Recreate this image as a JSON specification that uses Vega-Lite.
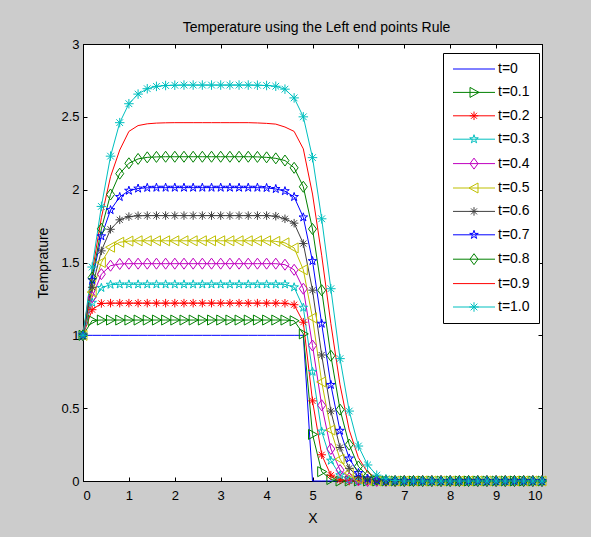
{
"$schema": "https://vega.github.io/schema/vega-lite/v6.json",
"width": 459, "height": 437,
"autosize": {"type": "none"},
"padding": {"left": 83, "top": 44, "right": 49, "bottom": 56},
"background": "#cccccc",
"config": {
  "font": "Liberation Sans",
  "view": {"fill": "white", "stroke": "black", "strokeWidth": 1},
  "axis": {"domainColor": "black", "tickColor": "black", "labelColor": "black", "titleColor": "black", "labelFontSize": 13, "titleFontSize": 14, "titleFontWeight": "normal", "tickSize": -4, "grid": false, "domainWidth": 1, "tickWidth": 1}
},
"title": {"text": "Temperature using the Left end points Rule", "fontSize": 14, "fontWeight": "normal", "color": "black", "anchor": "middle", "frame": "group", "baseline": "alphabetic", "offset": 12, "dx": 4, "dy": 20},
"data": {"values": [
{"x":0,"y":1,"s":"t=0"},{"x":0.2,"y":1,"s":"t=0"},{"x":0.4,"y":1,"s":"t=0"},{"x":0.6,"y":1,"s":"t=0"},{"x":0.8,"y":1,"s":"t=0"},{"x":1,"y":1,"s":"t=0"},{"x":1.2,"y":1,"s":"t=0"},{"x":1.4,"y":1,"s":"t=0"},{"x":1.6,"y":1,"s":"t=0"},{"x":1.8,"y":1,"s":"t=0"},{"x":2,"y":1,"s":"t=0"},{"x":2.2,"y":1,"s":"t=0"},{"x":2.4,"y":1,"s":"t=0"},{"x":2.6,"y":1,"s":"t=0"},{"x":2.8,"y":1,"s":"t=0"},{"x":3,"y":1,"s":"t=0"},{"x":3.2,"y":1,"s":"t=0"},{"x":3.4,"y":1,"s":"t=0"},{"x":3.6,"y":1,"s":"t=0"},{"x":3.8,"y":1,"s":"t=0"},{"x":4,"y":1,"s":"t=0"},{"x":4.2,"y":1,"s":"t=0"},{"x":4.4,"y":1,"s":"t=0"},{"x":4.6,"y":1,"s":"t=0"},{"x":4.8,"y":1,"s":"t=0"},{"x":5,"y":0,"s":"t=0"},{"x":5.2,"y":0,"s":"t=0"},{"x":5.4,"y":0,"s":"t=0"},{"x":5.6,"y":0,"s":"t=0"},{"x":5.8,"y":0,"s":"t=0"},{"x":6,"y":0,"s":"t=0"},{"x":6.2,"y":0,"s":"t=0"},{"x":6.4,"y":0,"s":"t=0"},{"x":6.6,"y":0,"s":"t=0"},{"x":6.8,"y":0,"s":"t=0"},{"x":7,"y":0,"s":"t=0"},{"x":7.2,"y":0,"s":"t=0"},{"x":7.4,"y":0,"s":"t=0"},{"x":7.6,"y":0,"s":"t=0"},{"x":7.8,"y":0,"s":"t=0"},{"x":8,"y":0,"s":"t=0"},{"x":8.2,"y":0,"s":"t=0"},{"x":8.4,"y":0,"s":"t=0"},{"x":8.6,"y":0,"s":"t=0"},{"x":8.8,"y":0,"s":"t=0"},{"x":9,"y":0,"s":"t=0"},{"x":9.2,"y":0,"s":"t=0"},{"x":9.4,"y":0,"s":"t=0"},{"x":9.6,"y":0,"s":"t=0"},{"x":9.8,"y":0,"s":"t=0"},{"x":10,"y":0,"s":"t=0"},
{"x":0,"y":1,"s":"t=0.1"},{"x":0.2,"y":1.102,"s":"t=0.1"},{"x":0.4,"y":1.105,"s":"t=0.1"},{"x":0.6,"y":1.105,"s":"t=0.1"},{"x":0.8,"y":1.105,"s":"t=0.1"},{"x":1,"y":1.105,"s":"t=0.1"},{"x":1.2,"y":1.105,"s":"t=0.1"},{"x":1.4,"y":1.105,"s":"t=0.1"},{"x":1.6,"y":1.105,"s":"t=0.1"},{"x":1.8,"y":1.105,"s":"t=0.1"},{"x":2,"y":1.105,"s":"t=0.1"},{"x":2.2,"y":1.105,"s":"t=0.1"},{"x":2.4,"y":1.105,"s":"t=0.1"},{"x":2.6,"y":1.105,"s":"t=0.1"},{"x":2.8,"y":1.105,"s":"t=0.1"},{"x":3,"y":1.105,"s":"t=0.1"},{"x":3.2,"y":1.105,"s":"t=0.1"},{"x":3.4,"y":1.105,"s":"t=0.1"},{"x":3.6,"y":1.105,"s":"t=0.1"},{"x":3.8,"y":1.105,"s":"t=0.1"},{"x":4,"y":1.105,"s":"t=0.1"},{"x":4.2,"y":1.105,"s":"t=0.1"},{"x":4.4,"y":1.105,"s":"t=0.1"},{"x":4.6,"y":1.1,"s":"t=0.1"},{"x":4.8,"y":1.01,"s":"t=0.1"},{"x":5,"y":0.32,"s":"t=0.1"},{"x":5.2,"y":0.064,"s":"t=0.1"},{"x":5.4,"y":0.01,"s":"t=0.1"},{"x":5.6,"y":0,"s":"t=0.1"},{"x":5.8,"y":0,"s":"t=0.1"},{"x":6,"y":0,"s":"t=0.1"},{"x":6.2,"y":0,"s":"t=0.1"},{"x":6.4,"y":0,"s":"t=0.1"},{"x":6.6,"y":0,"s":"t=0.1"},{"x":6.8,"y":0,"s":"t=0.1"},{"x":7,"y":0,"s":"t=0.1"},{"x":7.2,"y":0,"s":"t=0.1"},{"x":7.4,"y":0,"s":"t=0.1"},{"x":7.6,"y":0,"s":"t=0.1"},{"x":7.8,"y":0,"s":"t=0.1"},{"x":8,"y":0,"s":"t=0.1"},{"x":8.2,"y":0,"s":"t=0.1"},{"x":8.4,"y":0,"s":"t=0.1"},{"x":8.6,"y":0,"s":"t=0.1"},{"x":8.8,"y":0,"s":"t=0.1"},{"x":9,"y":0,"s":"t=0.1"},{"x":9.2,"y":0,"s":"t=0.1"},{"x":9.4,"y":0,"s":"t=0.1"},{"x":9.6,"y":0,"s":"t=0.1"},{"x":9.8,"y":0,"s":"t=0.1"},{"x":10,"y":0,"s":"t=0.1"},
{"x":0,"y":1,"s":"t=0.2"},{"x":0.2,"y":1.176,"s":"t=0.2"},{"x":0.4,"y":1.219,"s":"t=0.2"},{"x":0.6,"y":1.221,"s":"t=0.2"},{"x":0.8,"y":1.221,"s":"t=0.2"},{"x":1,"y":1.221,"s":"t=0.2"},{"x":1.2,"y":1.221,"s":"t=0.2"},{"x":1.4,"y":1.221,"s":"t=0.2"},{"x":1.6,"y":1.221,"s":"t=0.2"},{"x":1.8,"y":1.221,"s":"t=0.2"},{"x":2,"y":1.221,"s":"t=0.2"},{"x":2.2,"y":1.221,"s":"t=0.2"},{"x":2.4,"y":1.221,"s":"t=0.2"},{"x":2.6,"y":1.221,"s":"t=0.2"},{"x":2.8,"y":1.221,"s":"t=0.2"},{"x":3,"y":1.221,"s":"t=0.2"},{"x":3.2,"y":1.221,"s":"t=0.2"},{"x":3.4,"y":1.221,"s":"t=0.2"},{"x":3.6,"y":1.221,"s":"t=0.2"},{"x":3.8,"y":1.221,"s":"t=0.2"},{"x":4,"y":1.221,"s":"t=0.2"},{"x":4.2,"y":1.221,"s":"t=0.2"},{"x":4.4,"y":1.22,"s":"t=0.2"},{"x":4.6,"y":1.21,"s":"t=0.2"},{"x":4.8,"y":1.09,"s":"t=0.2"},{"x":5,"y":0.55,"s":"t=0.2"},{"x":5.2,"y":0.18,"s":"t=0.2"},{"x":5.4,"y":0.04,"s":"t=0.2"},{"x":5.6,"y":0.008,"s":"t=0.2"},{"x":5.8,"y":0,"s":"t=0.2"},{"x":6,"y":0,"s":"t=0.2"},{"x":6.2,"y":0,"s":"t=0.2"},{"x":6.4,"y":0,"s":"t=0.2"},{"x":6.6,"y":0,"s":"t=0.2"},{"x":6.8,"y":0,"s":"t=0.2"},{"x":7,"y":0,"s":"t=0.2"},{"x":7.2,"y":0,"s":"t=0.2"},{"x":7.4,"y":0,"s":"t=0.2"},{"x":7.6,"y":0,"s":"t=0.2"},{"x":7.8,"y":0,"s":"t=0.2"},{"x":8,"y":0,"s":"t=0.2"},{"x":8.2,"y":0,"s":"t=0.2"},{"x":8.4,"y":0,"s":"t=0.2"},{"x":8.6,"y":0,"s":"t=0.2"},{"x":8.8,"y":0,"s":"t=0.2"},{"x":9,"y":0,"s":"t=0.2"},{"x":9.2,"y":0,"s":"t=0.2"},{"x":9.4,"y":0,"s":"t=0.2"},{"x":9.6,"y":0,"s":"t=0.2"},{"x":9.8,"y":0,"s":"t=0.2"},{"x":10,"y":0,"s":"t=0.2"},
{"x":0,"y":1,"s":"t=0.3"},{"x":0.2,"y":1.224,"s":"t=0.3"},{"x":0.4,"y":1.326,"s":"t=0.3"},{"x":0.6,"y":1.348,"s":"t=0.3"},{"x":0.8,"y":1.35,"s":"t=0.3"},{"x":1,"y":1.35,"s":"t=0.3"},{"x":1.2,"y":1.35,"s":"t=0.3"},{"x":1.4,"y":1.35,"s":"t=0.3"},{"x":1.6,"y":1.35,"s":"t=0.3"},{"x":1.8,"y":1.35,"s":"t=0.3"},{"x":2,"y":1.35,"s":"t=0.3"},{"x":2.2,"y":1.35,"s":"t=0.3"},{"x":2.4,"y":1.35,"s":"t=0.3"},{"x":2.6,"y":1.35,"s":"t=0.3"},{"x":2.8,"y":1.35,"s":"t=0.3"},{"x":3,"y":1.35,"s":"t=0.3"},{"x":3.2,"y":1.35,"s":"t=0.3"},{"x":3.4,"y":1.35,"s":"t=0.3"},{"x":3.6,"y":1.35,"s":"t=0.3"},{"x":3.8,"y":1.35,"s":"t=0.3"},{"x":4,"y":1.35,"s":"t=0.3"},{"x":4.2,"y":1.35,"s":"t=0.3"},{"x":4.4,"y":1.35,"s":"t=0.3"},{"x":4.6,"y":1.33,"s":"t=0.3"},{"x":4.8,"y":1.19,"s":"t=0.3"},{"x":5,"y":0.75,"s":"t=0.3"},{"x":5.2,"y":0.34,"s":"t=0.3"},{"x":5.4,"y":0.14,"s":"t=0.3"},{"x":5.6,"y":0.04,"s":"t=0.3"},{"x":5.8,"y":0.01,"s":"t=0.3"},{"x":6,"y":0,"s":"t=0.3"},{"x":6.2,"y":0,"s":"t=0.3"},{"x":6.4,"y":0,"s":"t=0.3"},{"x":6.6,"y":0,"s":"t=0.3"},{"x":6.8,"y":0,"s":"t=0.3"},{"x":7,"y":0,"s":"t=0.3"},{"x":7.2,"y":0,"s":"t=0.3"},{"x":7.4,"y":0,"s":"t=0.3"},{"x":7.6,"y":0,"s":"t=0.3"},{"x":7.8,"y":0,"s":"t=0.3"},{"x":8,"y":0,"s":"t=0.3"},{"x":8.2,"y":0,"s":"t=0.3"},{"x":8.4,"y":0,"s":"t=0.3"},{"x":8.6,"y":0,"s":"t=0.3"},{"x":8.8,"y":0,"s":"t=0.3"},{"x":9,"y":0,"s":"t=0.3"},{"x":9.2,"y":0,"s":"t=0.3"},{"x":9.4,"y":0,"s":"t=0.3"},{"x":9.6,"y":0,"s":"t=0.3"},{"x":9.8,"y":0,"s":"t=0.3"},{"x":10,"y":0,"s":"t=0.3"},
{"x":0,"y":1,"s":"t=0.4"},{"x":0.2,"y":1.262,"s":"t=0.4"},{"x":0.4,"y":1.42,"s":"t=0.4"},{"x":0.6,"y":1.478,"s":"t=0.4"},{"x":0.8,"y":1.49,"s":"t=0.4"},{"x":1,"y":1.492,"s":"t=0.4"},{"x":1.2,"y":1.492,"s":"t=0.4"},{"x":1.4,"y":1.492,"s":"t=0.4"},{"x":1.6,"y":1.492,"s":"t=0.4"},{"x":1.8,"y":1.492,"s":"t=0.4"},{"x":2,"y":1.492,"s":"t=0.4"},{"x":2.2,"y":1.492,"s":"t=0.4"},{"x":2.4,"y":1.492,"s":"t=0.4"},{"x":2.6,"y":1.492,"s":"t=0.4"},{"x":2.8,"y":1.492,"s":"t=0.4"},{"x":3,"y":1.492,"s":"t=0.4"},{"x":3.2,"y":1.492,"s":"t=0.4"},{"x":3.4,"y":1.492,"s":"t=0.4"},{"x":3.6,"y":1.492,"s":"t=0.4"},{"x":3.8,"y":1.492,"s":"t=0.4"},{"x":4,"y":1.492,"s":"t=0.4"},{"x":4.2,"y":1.492,"s":"t=0.4"},{"x":4.4,"y":1.485,"s":"t=0.4"},{"x":4.6,"y":1.45,"s":"t=0.4"},{"x":4.8,"y":1.32,"s":"t=0.4"},{"x":5,"y":0.93,"s":"t=0.4"},{"x":5.2,"y":0.52,"s":"t=0.4"},{"x":5.4,"y":0.22,"s":"t=0.4"},{"x":5.6,"y":0.075,"s":"t=0.4"},{"x":5.8,"y":0.02,"s":"t=0.4"},{"x":6,"y":0.004,"s":"t=0.4"},{"x":6.2,"y":0,"s":"t=0.4"},{"x":6.4,"y":0,"s":"t=0.4"},{"x":6.6,"y":0,"s":"t=0.4"},{"x":6.8,"y":0,"s":"t=0.4"},{"x":7,"y":0,"s":"t=0.4"},{"x":7.2,"y":0,"s":"t=0.4"},{"x":7.4,"y":0,"s":"t=0.4"},{"x":7.6,"y":0,"s":"t=0.4"},{"x":7.8,"y":0,"s":"t=0.4"},{"x":8,"y":0,"s":"t=0.4"},{"x":8.2,"y":0,"s":"t=0.4"},{"x":8.4,"y":0,"s":"t=0.4"},{"x":8.6,"y":0,"s":"t=0.4"},{"x":8.8,"y":0,"s":"t=0.4"},{"x":9,"y":0,"s":"t=0.4"},{"x":9.2,"y":0,"s":"t=0.4"},{"x":9.4,"y":0,"s":"t=0.4"},{"x":9.6,"y":0,"s":"t=0.4"},{"x":9.8,"y":0,"s":"t=0.4"},{"x":10,"y":0,"s":"t=0.4"},
{"x":0,"y":1,"s":"t=0.5"},{"x":0.2,"y":1.297,"s":"t=0.5"},{"x":0.4,"y":1.5,"s":"t=0.5"},{"x":0.6,"y":1.605,"s":"t=0.5"},{"x":0.8,"y":1.639,"s":"t=0.5"},{"x":1,"y":1.647,"s":"t=0.5"},{"x":1.2,"y":1.649,"s":"t=0.5"},{"x":1.4,"y":1.649,"s":"t=0.5"},{"x":1.6,"y":1.649,"s":"t=0.5"},{"x":1.8,"y":1.649,"s":"t=0.5"},{"x":2,"y":1.649,"s":"t=0.5"},{"x":2.2,"y":1.649,"s":"t=0.5"},{"x":2.4,"y":1.649,"s":"t=0.5"},{"x":2.6,"y":1.649,"s":"t=0.5"},{"x":2.8,"y":1.649,"s":"t=0.5"},{"x":3,"y":1.649,"s":"t=0.5"},{"x":3.2,"y":1.649,"s":"t=0.5"},{"x":3.4,"y":1.649,"s":"t=0.5"},{"x":3.6,"y":1.649,"s":"t=0.5"},{"x":3.8,"y":1.649,"s":"t=0.5"},{"x":4,"y":1.649,"s":"t=0.5"},{"x":4.2,"y":1.645,"s":"t=0.5"},{"x":4.4,"y":1.635,"s":"t=0.5"},{"x":4.6,"y":1.6,"s":"t=0.5"},{"x":4.8,"y":1.45,"s":"t=0.5"},{"x":5,"y":1.12,"s":"t=0.5"},{"x":5.2,"y":0.68,"s":"t=0.5"},{"x":5.4,"y":0.35,"s":"t=0.5"},{"x":5.6,"y":0.15,"s":"t=0.5"},{"x":5.8,"y":0.055,"s":"t=0.5"},{"x":6,"y":0.015,"s":"t=0.5"},{"x":6.2,"y":0.004,"s":"t=0.5"},{"x":6.4,"y":0,"s":"t=0.5"},{"x":6.6,"y":0,"s":"t=0.5"},{"x":6.8,"y":0,"s":"t=0.5"},{"x":7,"y":0,"s":"t=0.5"},{"x":7.2,"y":0,"s":"t=0.5"},{"x":7.4,"y":0,"s":"t=0.5"},{"x":7.6,"y":0,"s":"t=0.5"},{"x":7.8,"y":0,"s":"t=0.5"},{"x":8,"y":0,"s":"t=0.5"},{"x":8.2,"y":0,"s":"t=0.5"},{"x":8.4,"y":0,"s":"t=0.5"},{"x":8.6,"y":0,"s":"t=0.5"},{"x":8.8,"y":0,"s":"t=0.5"},{"x":9,"y":0,"s":"t=0.5"},{"x":9.2,"y":0,"s":"t=0.5"},{"x":9.4,"y":0,"s":"t=0.5"},{"x":9.6,"y":0,"s":"t=0.5"},{"x":9.8,"y":0,"s":"t=0.5"},{"x":10,"y":0,"s":"t=0.5"},
{"x":0,"y":1,"s":"t=0.6"},{"x":0.2,"y":1.33,"s":"t=0.6"},{"x":0.4,"y":1.58,"s":"t=0.6"},{"x":0.6,"y":1.728,"s":"t=0.6"},{"x":0.8,"y":1.793,"s":"t=0.6"},{"x":1,"y":1.815,"s":"t=0.6"},{"x":1.2,"y":1.821,"s":"t=0.6"},{"x":1.4,"y":1.822,"s":"t=0.6"},{"x":1.6,"y":1.822,"s":"t=0.6"},{"x":1.8,"y":1.822,"s":"t=0.6"},{"x":2,"y":1.822,"s":"t=0.6"},{"x":2.2,"y":1.822,"s":"t=0.6"},{"x":2.4,"y":1.822,"s":"t=0.6"},{"x":2.6,"y":1.822,"s":"t=0.6"},{"x":2.8,"y":1.822,"s":"t=0.6"},{"x":3,"y":1.822,"s":"t=0.6"},{"x":3.2,"y":1.822,"s":"t=0.6"},{"x":3.4,"y":1.822,"s":"t=0.6"},{"x":3.6,"y":1.822,"s":"t=0.6"},{"x":3.8,"y":1.822,"s":"t=0.6"},{"x":4,"y":1.822,"s":"t=0.6"},{"x":4.2,"y":1.818,"s":"t=0.6"},{"x":4.4,"y":1.8,"s":"t=0.6"},{"x":4.6,"y":1.77,"s":"t=0.6"},{"x":4.8,"y":1.63,"s":"t=0.6"},{"x":5,"y":1.31,"s":"t=0.6"},{"x":5.2,"y":0.865,"s":"t=0.6"},{"x":5.4,"y":0.48,"s":"t=0.6"},{"x":5.6,"y":0.23,"s":"t=0.6"},{"x":5.8,"y":0.087,"s":"t=0.6"},{"x":6,"y":0.03,"s":"t=0.6"},{"x":6.2,"y":0.008,"s":"t=0.6"},{"x":6.4,"y":0,"s":"t=0.6"},{"x":6.6,"y":0,"s":"t=0.6"},{"x":6.8,"y":0,"s":"t=0.6"},{"x":7,"y":0,"s":"t=0.6"},{"x":7.2,"y":0,"s":"t=0.6"},{"x":7.4,"y":0,"s":"t=0.6"},{"x":7.6,"y":0,"s":"t=0.6"},{"x":7.8,"y":0,"s":"t=0.6"},{"x":8,"y":0,"s":"t=0.6"},{"x":8.2,"y":0,"s":"t=0.6"},{"x":8.4,"y":0,"s":"t=0.6"},{"x":8.6,"y":0,"s":"t=0.6"},{"x":8.8,"y":0,"s":"t=0.6"},{"x":9,"y":0,"s":"t=0.6"},{"x":9.2,"y":0,"s":"t=0.6"},{"x":9.4,"y":0,"s":"t=0.6"},{"x":9.6,"y":0,"s":"t=0.6"},{"x":9.8,"y":0,"s":"t=0.6"},{"x":10,"y":0,"s":"t=0.6"},
{"x":0,"y":1,"s":"t=0.7"},{"x":0.2,"y":1.38,"s":"t=0.7"},{"x":0.4,"y":1.68,"s":"t=0.7"},{"x":0.6,"y":1.86,"s":"t=0.7"},{"x":0.8,"y":1.95,"s":"t=0.7"},{"x":1,"y":1.993,"s":"t=0.7"},{"x":1.2,"y":2.008,"s":"t=0.7"},{"x":1.4,"y":2.013,"s":"t=0.7"},{"x":1.6,"y":2.014,"s":"t=0.7"},{"x":1.8,"y":2.014,"s":"t=0.7"},{"x":2,"y":2.014,"s":"t=0.7"},{"x":2.2,"y":2.014,"s":"t=0.7"},{"x":2.4,"y":2.014,"s":"t=0.7"},{"x":2.6,"y":2.014,"s":"t=0.7"},{"x":2.8,"y":2.014,"s":"t=0.7"},{"x":3,"y":2.014,"s":"t=0.7"},{"x":3.2,"y":2.014,"s":"t=0.7"},{"x":3.4,"y":2.014,"s":"t=0.7"},{"x":3.6,"y":2.014,"s":"t=0.7"},{"x":3.8,"y":2.014,"s":"t=0.7"},{"x":4,"y":2.012,"s":"t=0.7"},{"x":4.2,"y":2.005,"s":"t=0.7"},{"x":4.4,"y":1.99,"s":"t=0.7"},{"x":4.6,"y":1.95,"s":"t=0.7"},{"x":4.8,"y":1.81,"s":"t=0.7"},{"x":5,"y":1.51,"s":"t=0.7"},{"x":5.2,"y":1.08,"s":"t=0.7"},{"x":5.4,"y":0.66,"s":"t=0.7"},{"x":5.6,"y":0.345,"s":"t=0.7"},{"x":5.8,"y":0.155,"s":"t=0.7"},{"x":6,"y":0.055,"s":"t=0.7"},{"x":6.2,"y":0.017,"s":"t=0.7"},{"x":6.4,"y":0.004,"s":"t=0.7"},{"x":6.6,"y":0,"s":"t=0.7"},{"x":6.8,"y":0,"s":"t=0.7"},{"x":7,"y":0,"s":"t=0.7"},{"x":7.2,"y":0,"s":"t=0.7"},{"x":7.4,"y":0,"s":"t=0.7"},{"x":7.6,"y":0,"s":"t=0.7"},{"x":7.8,"y":0,"s":"t=0.7"},{"x":8,"y":0,"s":"t=0.7"},{"x":8.2,"y":0,"s":"t=0.7"},{"x":8.4,"y":0,"s":"t=0.7"},{"x":8.6,"y":0,"s":"t=0.7"},{"x":8.8,"y":0,"s":"t=0.7"},{"x":9,"y":0,"s":"t=0.7"},{"x":9.2,"y":0,"s":"t=0.7"},{"x":9.4,"y":0,"s":"t=0.7"},{"x":9.6,"y":0,"s":"t=0.7"},{"x":9.8,"y":0,"s":"t=0.7"},{"x":10,"y":0,"s":"t=0.7"},
{"x":0,"y":1,"s":"t=0.8"},{"x":0.2,"y":1.397,"s":"t=0.8"},{"x":0.4,"y":1.731,"s":"t=0.8"},{"x":0.6,"y":1.967,"s":"t=0.8"},{"x":0.8,"y":2.11,"s":"t=0.8"},{"x":1,"y":2.181,"s":"t=0.8"},{"x":1.2,"y":2.211,"s":"t=0.8"},{"x":1.4,"y":2.222,"s":"t=0.8"},{"x":1.6,"y":2.225,"s":"t=0.8"},{"x":1.8,"y":2.226,"s":"t=0.8"},{"x":2,"y":2.226,"s":"t=0.8"},{"x":2.2,"y":2.226,"s":"t=0.8"},{"x":2.4,"y":2.226,"s":"t=0.8"},{"x":2.6,"y":2.226,"s":"t=0.8"},{"x":2.8,"y":2.226,"s":"t=0.8"},{"x":3,"y":2.226,"s":"t=0.8"},{"x":3.2,"y":2.226,"s":"t=0.8"},{"x":3.4,"y":2.226,"s":"t=0.8"},{"x":3.6,"y":2.226,"s":"t=0.8"},{"x":3.8,"y":2.225,"s":"t=0.8"},{"x":4,"y":2.222,"s":"t=0.8"},{"x":4.2,"y":2.215,"s":"t=0.8"},{"x":4.4,"y":2.2,"s":"t=0.8"},{"x":4.6,"y":2.15,"s":"t=0.8"},{"x":4.8,"y":2.02,"s":"t=0.8"},{"x":5,"y":1.73,"s":"t=0.8"},{"x":5.2,"y":1.31,"s":"t=0.8"},{"x":5.4,"y":0.86,"s":"t=0.8"},{"x":5.6,"y":0.49,"s":"t=0.8"},{"x":5.8,"y":0.25,"s":"t=0.8"},{"x":6,"y":0.1,"s":"t=0.8"},{"x":6.2,"y":0.035,"s":"t=0.8"},{"x":6.4,"y":0.01,"s":"t=0.8"},{"x":6.6,"y":0.003,"s":"t=0.8"},{"x":6.8,"y":0,"s":"t=0.8"},{"x":7,"y":0,"s":"t=0.8"},{"x":7.2,"y":0,"s":"t=0.8"},{"x":7.4,"y":0,"s":"t=0.8"},{"x":7.6,"y":0,"s":"t=0.8"},{"x":7.8,"y":0,"s":"t=0.8"},{"x":8,"y":0,"s":"t=0.8"},{"x":8.2,"y":0,"s":"t=0.8"},{"x":8.4,"y":0,"s":"t=0.8"},{"x":8.6,"y":0,"s":"t=0.8"},{"x":8.8,"y":0,"s":"t=0.8"},{"x":9,"y":0,"s":"t=0.8"},{"x":9.2,"y":0,"s":"t=0.8"},{"x":9.4,"y":0,"s":"t=0.8"},{"x":9.6,"y":0,"s":"t=0.8"},{"x":9.8,"y":0,"s":"t=0.8"},{"x":10,"y":0,"s":"t=0.8"},
{"x":0,"y":1,"s":"t=0.9"},{"x":0.2,"y":1.432,"s":"t=0.9"},{"x":0.4,"y":1.807,"s":"t=0.9"},{"x":0.6,"y":2.089,"s":"t=0.9"},{"x":0.8,"y":2.272,"s":"t=0.9"},{"x":1,"y":2.4,"s":"t=0.9"},{"x":1.2,"y":2.44,"s":"t=0.9"},{"x":1.4,"y":2.452,"s":"t=0.9"},{"x":1.6,"y":2.457,"s":"t=0.9"},{"x":1.8,"y":2.459,"s":"t=0.9"},{"x":2,"y":2.46,"s":"t=0.9"},{"x":2.2,"y":2.46,"s":"t=0.9"},{"x":2.4,"y":2.46,"s":"t=0.9"},{"x":2.6,"y":2.46,"s":"t=0.9"},{"x":2.8,"y":2.46,"s":"t=0.9"},{"x":3,"y":2.46,"s":"t=0.9"},{"x":3.2,"y":2.46,"s":"t=0.9"},{"x":3.4,"y":2.46,"s":"t=0.9"},{"x":3.6,"y":2.46,"s":"t=0.9"},{"x":3.8,"y":2.458,"s":"t=0.9"},{"x":4,"y":2.455,"s":"t=0.9"},{"x":4.2,"y":2.45,"s":"t=0.9"},{"x":4.4,"y":2.43,"s":"t=0.9"},{"x":4.6,"y":2.4,"s":"t=0.9"},{"x":4.8,"y":2.28,"s":"t=0.9"},{"x":5,"y":1.97,"s":"t=0.9"},{"x":5.2,"y":1.55,"s":"t=0.9"},{"x":5.4,"y":1.08,"s":"t=0.9"},{"x":5.6,"y":0.66,"s":"t=0.9"},{"x":5.8,"y":0.35,"s":"t=0.9"},{"x":6,"y":0.16,"s":"t=0.9"},{"x":6.2,"y":0.06,"s":"t=0.9"},{"x":6.4,"y":0.02,"s":"t=0.9"},{"x":6.6,"y":0.005,"s":"t=0.9"},{"x":6.8,"y":0,"s":"t=0.9"},{"x":7,"y":0,"s":"t=0.9"},{"x":7.2,"y":0,"s":"t=0.9"},{"x":7.4,"y":0,"s":"t=0.9"},{"x":7.6,"y":0,"s":"t=0.9"},{"x":7.8,"y":0,"s":"t=0.9"},{"x":8,"y":0,"s":"t=0.9"},{"x":8.2,"y":0,"s":"t=0.9"},{"x":8.4,"y":0,"s":"t=0.9"},{"x":8.6,"y":0,"s":"t=0.9"},{"x":8.8,"y":0,"s":"t=0.9"},{"x":9,"y":0,"s":"t=0.9"},{"x":9.2,"y":0,"s":"t=0.9"},{"x":9.4,"y":0,"s":"t=0.9"},{"x":9.6,"y":0,"s":"t=0.9"},{"x":9.8,"y":0,"s":"t=0.9"},{"x":10,"y":0,"s":"t=0.9"},
{"x":0,"y":1,"s":"t=1.0"},{"x":0.2,"y":1.469,"s":"t=1.0"},{"x":0.4,"y":1.885,"s":"t=1.0"},{"x":0.6,"y":2.23,"s":"t=1.0"},{"x":0.8,"y":2.46,"s":"t=1.0"},{"x":1,"y":2.59,"s":"t=1.0"},{"x":1.2,"y":2.656,"s":"t=1.0"},{"x":1.4,"y":2.693,"s":"t=1.0"},{"x":1.6,"y":2.709,"s":"t=1.0"},{"x":1.8,"y":2.715,"s":"t=1.0"},{"x":2,"y":2.717,"s":"t=1.0"},{"x":2.2,"y":2.718,"s":"t=1.0"},{"x":2.4,"y":2.718,"s":"t=1.0"},{"x":2.6,"y":2.718,"s":"t=1.0"},{"x":2.8,"y":2.718,"s":"t=1.0"},{"x":3,"y":2.718,"s":"t=1.0"},{"x":3.2,"y":2.718,"s":"t=1.0"},{"x":3.4,"y":2.718,"s":"t=1.0"},{"x":3.6,"y":2.718,"s":"t=1.0"},{"x":3.8,"y":2.717,"s":"t=1.0"},{"x":4,"y":2.715,"s":"t=1.0"},{"x":4.2,"y":2.71,"s":"t=1.0"},{"x":4.4,"y":2.69,"s":"t=1.0"},{"x":4.6,"y":2.63,"s":"t=1.0"},{"x":4.8,"y":2.5,"s":"t=1.0"},{"x":5,"y":2.22,"s":"t=1.0"},{"x":5.2,"y":1.8,"s":"t=1.0"},{"x":5.4,"y":1.32,"s":"t=1.0"},{"x":5.6,"y":0.84,"s":"t=1.0"},{"x":5.8,"y":0.48,"s":"t=1.0"},{"x":6,"y":0.24,"s":"t=1.0"},{"x":6.2,"y":0.11,"s":"t=1.0"},{"x":6.4,"y":0.04,"s":"t=1.0"},{"x":6.6,"y":0.015,"s":"t=1.0"},{"x":6.8,"y":0.004,"s":"t=1.0"},{"x":7,"y":0,"s":"t=1.0"},{"x":7.2,"y":0,"s":"t=1.0"},{"x":7.4,"y":0,"s":"t=1.0"},{"x":7.6,"y":0,"s":"t=1.0"},{"x":7.8,"y":0,"s":"t=1.0"},{"x":8,"y":0,"s":"t=1.0"},{"x":8.2,"y":0,"s":"t=1.0"},{"x":8.4,"y":0,"s":"t=1.0"},{"x":8.6,"y":0,"s":"t=1.0"},{"x":8.8,"y":0,"s":"t=1.0"},{"x":9,"y":0,"s":"t=1.0"},{"x":9.2,"y":0,"s":"t=1.0"},{"x":9.4,"y":0,"s":"t=1.0"},{"x":9.6,"y":0,"s":"t=1.0"},{"x":9.8,"y":0,"s":"t=1.0"},{"x":10,"y":0,"s":"t=1.0"}
]},
"layer": [
  {
    "mark": {"type": "line", "strokeWidth": 1, "clip": false},
    "encoding": {
      "x": {"field": "x", "type": "quantitative", "scale": {"domain": [0, 10], "nice": false, "zero": false},
            "axis": {"orient": "bottom", "values": [0,1,2,3,4,5,6,7,8,9,10], "title": "X", "labelPadding": 12, "titlePadding": 9}},
      "y": {"field": "y", "type": "quantitative", "scale": {"domain": [0, 3], "nice": false, "zero": false},
            "axis": {"orient": "left", "values": [0,0.5,1,1.5,2,2.5,3], "format": "~g", "title": "Temprature", "labelPadding": 8, "titlePadding": 10}},
      "color": {"field": "s", "type": "nominal",
                "scale": {"domain": ["t=0","t=0.1","t=0.2","t=0.3","t=0.4","t=0.5","t=0.6","t=0.7","t=0.8","t=0.9","t=1.0"],
                          "range": ["#0000ff","#008000","#ff0000","#00bfbf","#bf00bf","#bfbf00","#404040","#0000ff","#008000","#ff0000","#00bfbf"]},
                "legend": null}
    }
  },
  {
    "transform": [{"filter": {"field": "s", "oneOf": ["t=0.1","t=0.2","t=0.3","t=0.4","t=0.5","t=0.6","t=0.7","t=0.8","t=1.0"]}}],
    "mark": {"type": "point", "filled": false, "strokeWidth": 1, "size": 100, "opacity": 1},
    "encoding": {
      "x": {"field": "x", "type": "quantitative", "axis": null},
      "y": {"field": "y", "type": "quantitative", "axis": null},
      "color": {"field": "s", "type": "nominal",
                "scale": {"domain": ["t=0","t=0.1","t=0.2","t=0.3","t=0.4","t=0.5","t=0.6","t=0.7","t=0.8","t=0.9","t=1.0"],
                          "range": ["#0000ff","#008000","#ff0000","#00bfbf","#bf00bf","#bfbf00","#404040","#0000ff","#008000","#ff0000","#00bfbf"]},
                "legend": null},
      "shape": {"field": "s", "type": "nominal",
                "scale": {"domain": ["t=0","t=0.1","t=0.2","t=0.3","t=0.4","t=0.5","t=0.6","t=0.7","t=0.8","t=0.9","t=1.0"],
                          "range": [
                            "M0,0",
                            "M-0.8,-1L1,0L-0.8,1Z",
                            "M-0.85,0L0.85,0M0,-0.85L0,0.85M-0.6,-0.6L0.6,0.6M-0.6,0.6L0.6,-0.6",
                            "M0,-0.9L0.202,-0.278L0.856,-0.278L0.327,0.106L0.529,0.728L0,0.344L-0.529,0.728L-0.327,0.106L-0.856,-0.278L-0.202,-0.278Z",
                            "M0,-1.1L0.8,0L0,1.1L-0.8,0Z",
                            "M0.8,-1L-1,0L0.8,1Z",
                            "M-0.85,0L0.85,0M0,-0.85L0,0.85M-0.6,-0.6L0.6,0.6M-0.6,0.6L0.6,-0.6",
                            "M0,-0.9L0.202,-0.278L0.856,-0.278L0.327,0.106L0.529,0.728L0,0.344L-0.529,0.728L-0.327,0.106L-0.856,-0.278L-0.202,-0.278Z",
                            "M0,-1.1L0.8,0L0,1.1L-0.8,0Z",
                            "M0,0",
                            "M-0.95,0L0.95,0M0,-0.95L0,0.95M-0.67,-0.67L0.67,0.67M-0.67,0.67L0.67,-0.67"
                          ]},
                "legend": null}
    }
  },
  {
    "data": {"values": []},
    "mark": {"type": "point", "filled": false, "strokeWidth": 1, "size": 100, "opacity": 1},
    "encoding": {
      "x": {"field": "x", "type": "quantitative", "axis": {"orient": "top", "values": [0,1,2,3,4,5,6,7,8,9,10], "labels": false, "title": null}},
      "y": {"field": "y", "type": "quantitative", "axis": {"orient": "right", "values": [0,0.5,1,1.5,2,2.5,3], "labels": false, "title": null}},
      "color": {"field": "s", "type": "nominal",
                "scale": {"domain": ["t=0","t=0.1","t=0.2","t=0.3","t=0.4","t=0.5","t=0.6","t=0.7","t=0.8","t=0.9","t=1.0"],
                          "range": ["#0000ff","#008000","#ff0000","#00bfbf","#bf00bf","#bfbf00","#404040","#0000ff","#008000","#ff0000","#00bfbf"]},
                "legend": {"title": null, "orient": "none", "legendX": 360, "legendY": 9, "fillColor": "white", "strokeColor": "black", "padding": 9, "symbolSize": 100, "symbolStrokeWidth": 1, "symbolOffset": 15, "labelOffset": 17, "labelFontSize": 14, "labelColor": "black", "rowPadding": 9.4}},
      "shape": {"field": "s", "type": "nominal",
                "scale": {"domain": ["t=0","t=0.1","t=0.2","t=0.3","t=0.4","t=0.5","t=0.6","t=0.7","t=0.8","t=0.9","t=1.0"],
                          "range": [
                            "M-4.2,0L4.2,0",
                            "M-4.2,0L4.2,0M-0.8,-1L1,0L-0.8,1Z",
                            "M-4.2,0L4.2,0M-0.85,0L0.85,0M0,-0.85L0,0.85M-0.6,-0.6L0.6,0.6M-0.6,0.6L0.6,-0.6",
                            "M-4.2,0L4.2,0M0,-0.9L0.202,-0.278L0.856,-0.278L0.327,0.106L0.529,0.728L0,0.344L-0.529,0.728L-0.327,0.106L-0.856,-0.278L-0.202,-0.278Z",
                            "M-4.2,0L4.2,0M0,-1.1L0.8,0L0,1.1L-0.8,0Z",
                            "M-4.2,0L4.2,0M0.8,-1L-1,0L0.8,1Z",
                            "M-4.2,0L4.2,0M-0.85,0L0.85,0M0,-0.85L0,0.85M-0.6,-0.6L0.6,0.6M-0.6,0.6L0.6,-0.6",
                            "M-4.2,0L4.2,0M0,-0.9L0.202,-0.278L0.856,-0.278L0.327,0.106L0.529,0.728L0,0.344L-0.529,0.728L-0.327,0.106L-0.856,-0.278L-0.202,-0.278Z",
                            "M-4.2,0L4.2,0M0,-1.1L0.8,0L0,1.1L-0.8,0Z",
                            "M-4.2,0L4.2,0",
                            "M-4.2,0L4.2,0M-0.95,0L0.95,0M0,-0.95L0,0.95M-0.67,-0.67L0.67,0.67M-0.67,0.67L0.67,-0.67"
                          ]},
                "legend": {"title": null, "orient": "none", "legendX": 360, "legendY": 9, "fillColor": "white", "strokeColor": "black", "padding": 9, "symbolSize": 100, "symbolStrokeWidth": 1, "symbolOffset": 15, "labelOffset": 17, "labelFontSize": 14, "labelColor": "black", "rowPadding": 9.4}}
    }
  }
],
"resolve": {"scale": {"color": "independent", "shape": "independent"}, "axis": {"x": "independent", "y": "independent"}}
}
